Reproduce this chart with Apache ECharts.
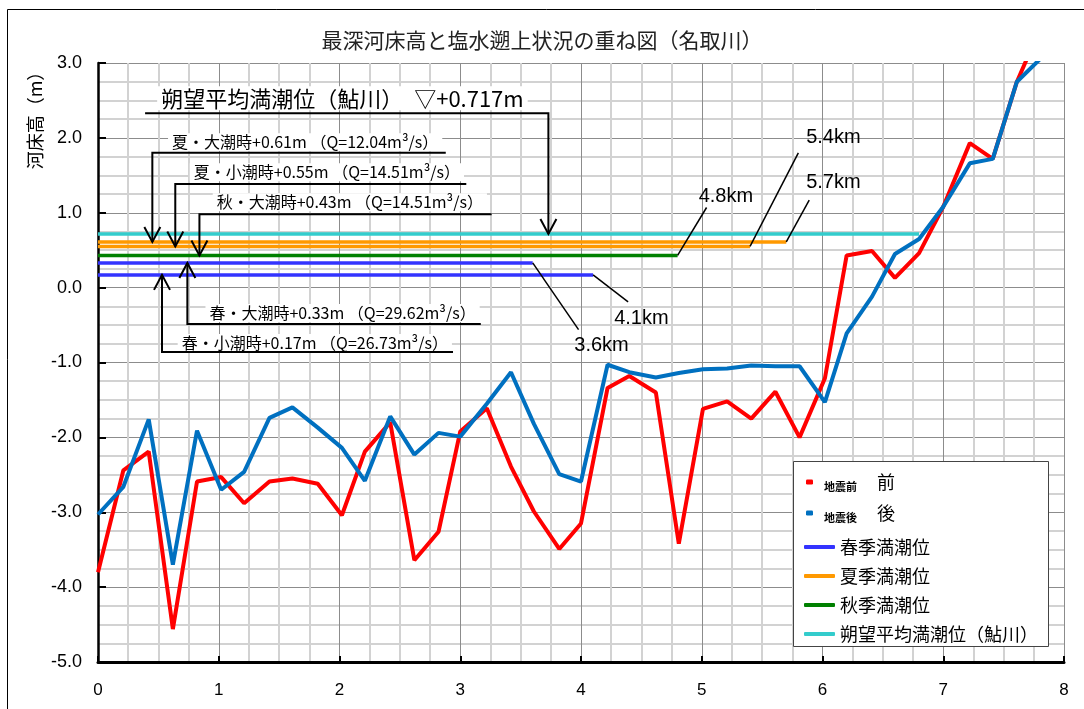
<!DOCTYPE html>
<html>
<head>
<meta charset="utf-8">
<script src="https://cdn.jsdelivr.net/npm/echarts@6.0.0/dist/echarts.min.js"></script>
<style>
  html, body { margin: 0; padding: 0; background: #fff; }
  #chart { width: 1084px; height: 709px; }
</style>
</head>
<body>
<div id="chart"></div>
<script>
// 距離標 (km)
const dist = [0, 0.21, 0.42, 0.62, 0.82, 1.02, 1.21, 1.42, 1.61, 1.82,
  2.02, 2.21, 2.42, 2.62, 2.82, 3.0, 3.22, 3.42, 3.61, 3.82,
  4.0, 4.22, 4.4, 4.62, 4.81, 5.01, 5.21, 5.41, 5.61, 5.81,
  6.02, 6.2, 6.41, 6.6, 6.8, 7.0, 7.22, 7.41, 7.61, 7.8]
// 最深河床高 地震前 (m)
const before = [-3.80, -2.44, -2.19, -4.56, -2.59, -2.53, -2.88, -2.59, -2.55, -2.62,
  -3.04, -2.19, -1.80, -3.64, -3.26, -1.92, -1.61, -2.39, -2.99, -3.49,
  -3.15, -1.34, -1.18, -1.40, -3.42, -1.62, -1.52, -1.75, -1.39, -2.00,
  -1.21, 0.43, 0.49, 0.13, 0.46, 1.08, 1.93, 1.72, 2.75, 3.45]
// 最深河床高 地震後 (m)
const after = [-3.03, -2.66, -1.76, -3.70, -1.91, -2.70, -2.46, -1.74, -1.60, -1.87,
  -2.14, -2.58, -1.72, -2.23, -1.94, -1.99, -1.55, -1.13, -1.82, -2.49,
  -2.59, -1.03, -1.13, -1.20, -1.14, -1.09, -1.08, -1.04, -1.05, -1.05,
  -1.53, -0.61, -0.12, 0.45, 0.65, 1.08, 1.66, 1.72, 2.75, 3.05]

// 満潮位 (m) と塩水遡上距離 (km)
const tideSeries = ['春季満潮位', '春季満潮位', '夏季満潮位', '夏季満潮位', '秋季満潮位', '朔望平均満潮位（鮎川）']
const tideLevels = [0.33, 0.17, 0.61, 0.55, 0.43, 0.717]
const tideReach = [3.6, 4.1, 5.7, 5.4, 4.8, 6.8]
const tideColors = { '春季満潮位': '#3333ff', '夏季満潮位': '#ff9900', '秋季満潮位': '#008000', '朔望平均満潮位（鮎川）': '#33cccc' }

const xTicks = { min: 0, max: 8, interval: 1 }
const yTicks = { min: -5, max: 3, interval: 1 }

const FONT = '"Noto Sans CJK JP", sans-serif'
const NUMFONT = '"Liberation Sans", "Noto Sans CJK JP", sans-serif'

const chart = echarts.init(document.getElementById('chart'))

const series = [
  {
    name: '地震前', type: 'line', symbol: 'none', z: 3,
    lineStyle: { color: '#ff0000', width: 4 }, itemStyle: { color: '#ff0000' },
    data: dist.map((d, i) => [d, before[i]])
  },
  {
    name: '地震後', type: 'line', symbol: 'none', z: 4,
    lineStyle: { color: '#0070c0', width: 4 }, itemStyle: { color: '#0070c0' },
    data: dist.map((d, i) => [d, after[i]])
  }
]
tideLevels.forEach((lv, i) => {
  const name = tideSeries[i]
  series.push({
    name: name, type: 'line', symbol: 'none', z: 2,
    lineStyle: { color: tideColors[name], width: 3.5 }, itemStyle: { color: tideColors[name] },
    data: [[0, lv], [tideReach[i], lv]]
  })
})

chart.setOption({
  animation: false,
  backgroundColor: '#fff',
  title: {
    text: '最深河床高と塩水遡上状況の重ね図（名取川）',
    left: 'center',
    top: 25,
    textStyle: { fontSize: 21, fontWeight: 'normal', color: '#222', fontFamily: FONT }
  },
  grid: { left: 98, right: 20, top: 63, bottom: 47 },
  legend: [{
    data: [{ name: '地震前', icon: 'roundRect' }, { name: '地震後', icon: 'roundRect' }],
    orient: 'vertical', left: 801, top: 468, itemWidth: 7, itemHeight: 5, itemGap: 12,
    selectedMode: false, z: 20,
    formatter: name => name === '地震前' ? '{a|地震前}{c|前}' : '{a|地震後}{c|後}',
    textStyle: {
      rich: {
        a: { fontSize: 11, fontWeight: 'bold', color: '#000', fontFamily: FONT, padding: [9, 0, 0, 6] },
        c: { fontSize: 18, color: '#000', fontFamily: FONT, padding: [0, 0, 0, 20] }
      }
    }
  }, {
    data: ['春季満潮位', '夏季満潮位', '秋季満潮位', '朔望平均満潮位（鮎川）'].map(n => ({ name: n, icon: 'roundRect' })),
    orient: 'vertical', left: 799, top: 533, itemWidth: 31, itemHeight: 4, itemGap: 11,
    selectedMode: false, z: 20,
    textStyle: { fontSize: 18, color: '#000', fontFamily: FONT }
  }],
  xAxis: {
    type: 'value', min: xTicks.min, max: xTicks.max, interval: xTicks.interval,
    axisLine: { onZero: false, lineStyle: { color: '#000', width: 3 } },
    axisTick: { inside: true, length: 6, lineStyle: { color: '#000', width: 2 } },
    axisLabel: { margin: 20, fontSize: 17, color: '#000', fontFamily: NUMFONT },
    splitLine: { lineStyle: { color: '#8c8c8c', width: 1 } },
    minorTick: { show: false, splitNumber: 4 },
    minorSplitLine: { show: true, lineStyle: { color: '#d2d2d2', width: 2 } }
  },
  yAxis: {
    type: 'value', min: yTicks.min, max: yTicks.max, interval: yTicks.interval,
    axisLine: { show: true, lineStyle: { color: '#000', width: 2.5 } },
    axisTick: { show: true, inside: true, length: 8, lineStyle: { color: '#000', width: 2 } },
    axisLabel: { margin: 16, fontSize: 18, color: '#000', fontFamily: NUMFONT, formatter: v => v.toFixed(1) },
    splitLine: { lineStyle: { color: '#8c8c8c', width: 1 } },
    minorTick: { show: false, splitNumber: 4 },
    minorSplitLine: { show: true, lineStyle: { color: '#d2d2d2', width: 2 } }
  },
  series: series
})

// 注記 (位置はデータ座標)
const notes = [
  { text: '朔望平均満潮位（鮎川）　▽+0.717m', size: 22, tx: 0.49, ty: 2.53, path: [[0.39, 2.33], [3.73, 2.33], [3.73, 0.717]], dir: 'down' },
  { text: '夏・大潮時+0.61m （Q=12.04m³/s）', size: 16, tx: 0.58, ty: 1.94, path: [[2.88, 1.80], [0.45, 1.80], [0.45, 0.61]], dir: 'down' },
  { text: '夏・小潮時+0.55m （Q=14.51m³/s）', size: 16, tx: 0.76, ty: 1.54, path: [[3.05, 1.385], [0.64, 1.385], [0.64, 0.55]], dir: 'down' },
  { text: '秋・大潮時+0.43m （Q=14.51m³/s）', size: 16, tx: 0.95, ty: 1.14, path: [[3.26, 0.98], [0.84, 0.98], [0.84, 0.43]], dir: 'down' },
  { text: '春・大潮時+0.33m （Q=29.62m³/s）', size: 16, tx: 0.89, ty: -0.34, path: [[3.17, -0.485], [0.74, -0.485], [0.74, 0.33]], dir: 'up' },
  { text: '春・小潮時+0.17m （Q=26.73m³/s）', size: 16, tx: 0.66, ty: -0.74, path: [[2.94, -0.86], [0.53, -0.86], [0.53, 0.17]], dir: 'up' }
]
const kmLabels = [
  { text: '5.4km', tx: 6.09, ty: 2.01, from: [5.4, 0.55], to: [5.80, 1.80] },
  { text: '5.7km', tx: 6.09, ty: 1.40, from: [5.7, 0.61], to: [5.89, 1.17] },
  { text: '4.8km', tx: 5.2, ty: 1.22, from: [4.8, 0.43], to: [5.04, 1.07] },
  { text: '4.1km', tx: 4.5, ty: -0.41, from: [4.1, 0.17], to: [4.39, -0.19] },
  { text: '3.6km', tx: 4.17, ty: -0.77, from: [3.6, 0.33], to: [3.98, -0.56] }
]

const toPx = p => chart.convertToPixel({ gridIndex: 0 }, p)
const els = []

// 外枠
els.push({ type: 'rect', shape: { x: 7.5, y: 9.5, width: 1090, height: 710 }, style: { fill: null, stroke: '#000', lineWidth: 1 }, z: 1 })
// 凡例枠
els.push({ type: 'rect', shape: { x: 793.5, y: 461.5, width: 255, height: 185 }, style: { fill: '#fff', stroke: '#444', lineWidth: 1 }, z: 15 })
// 縦軸名
els.push({
  type: 'text', x: 35, y: 116, rotation: Math.PI / 2,
  style: { text: '河床高（m）', fontSize: 18, fontFamily: FONT, fill: '#000', align: 'center', verticalAlign: 'middle' }, z: 10
})

notes.forEach(n => {
  const t = toPx([n.tx, n.ty])
  els.push({
    type: 'text', x: t[0], y: t[1],
    style: { text: n.text, fontSize: n.size, fontFamily: FONT, fill: '#000', align: 'left', verticalAlign: 'middle', backgroundColor: '#fff', padding: [1, 4] },
    z: 10
  })
  const pts = n.path.map(toPx)
  els.push({ type: 'polyline', shape: { points: pts }, style: { stroke: '#000', lineWidth: 2, fill: null }, z: 11 })
  const tip = pts[pts.length - 1]
  const s = n.dir === 'down' ? -1 : 1
  els.push({
    type: 'polyline',
    shape: { points: [[tip[0] - 8, tip[1] + s * 15], tip, [tip[0] + 8, tip[1] + s * 15]] },
    style: { stroke: '#000', lineWidth: 2, fill: null }, z: 11
  })
})

kmLabels.forEach(k => {
  const t = toPx([k.tx, k.ty])
  els.push({
    type: 'text', x: t[0], y: t[1],
    style: { text: k.text, fontSize: 20, fontFamily: NUMFONT, fill: '#000', align: 'center', verticalAlign: 'middle' }, z: 10
  })
  els.push({ type: 'line', shape: { x1: toPx(k.from)[0], y1: toPx(k.from)[1], x2: toPx(k.to)[0], y2: toPx(k.to)[1] }, style: { stroke: '#000', lineWidth: 1.5 }, z: 11 })
})

chart.setOption({ graphic: { elements: els } })
</script>
</body>
</html>
